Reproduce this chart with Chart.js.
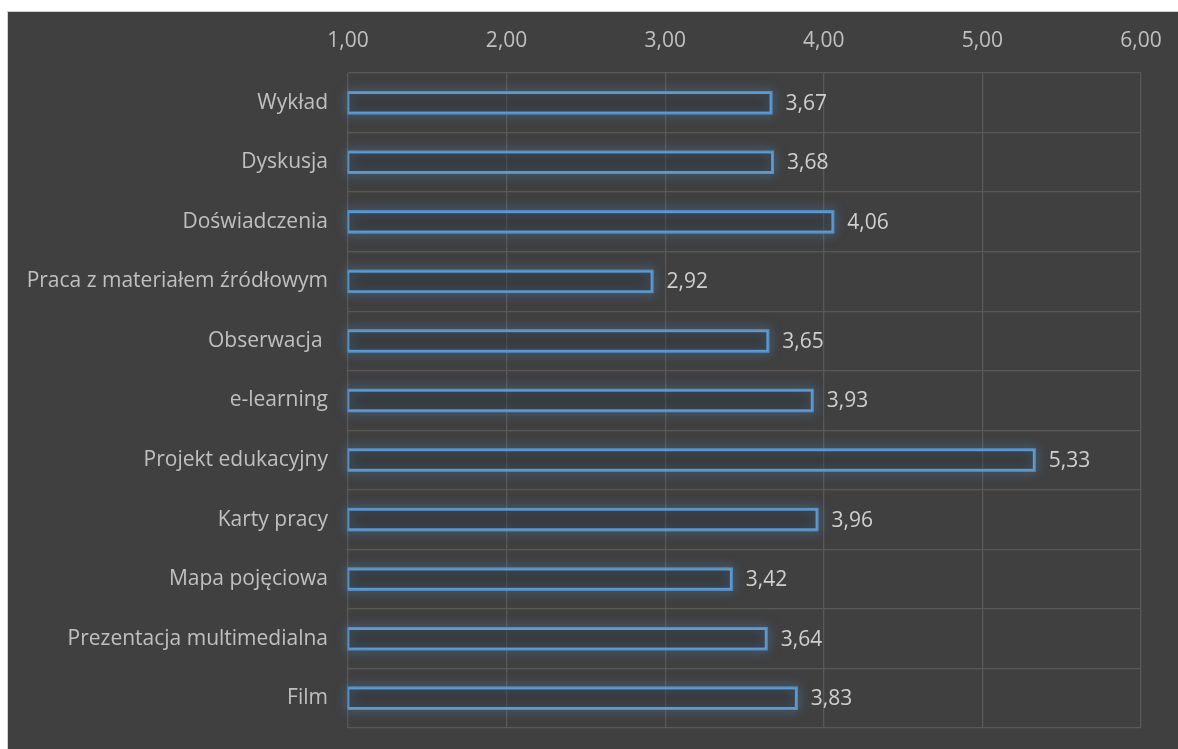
<!DOCTYPE html>
<html>
<head>
<meta charset="utf-8">
<script src="https://cdn.jsdelivr.net/npm/chart.js@4"></script>
<style>
  html,body{margin:0;padding:0;background:#fff;overflow:hidden}
  #box{position:absolute;left:7px;top:11px;width:1171px;height:738px;background:#404040;border-left:1px solid #d0d0d0;border-top:1px solid #d0d0d0;box-sizing:border-box}
  #box canvas{position:absolute;left:0;top:0}
</style>
</head>
<body>
<div id="box"><canvas id="c" width="1170" height="737"></canvas></div>
<script>
const CATEGORIES = ['Wykład','Dyskusja','Doświadczenia','Praca z materiałem źródłowym','Obserwacja ','e-learning','Projekt edukacyjny','Karty pracy','Mapa pojęciowa','Prezentacja multimedialna','Film']
const SCORES = [3.67,3.68,4.06,2.92,3.65,3.93,5.33,3.96,3.42,3.64,3.83]
const AXIS_MIN = 1, AXIS_MAX = 6

const fmt = v => v.toFixed(2).replace('.',',')
const FONT = "'Open Sans', sans-serif"
const SIZE = 21

// soft blue halo behind each bar
const glow = {
  id:'glow',
  beforeDatasetsDraw(chart){
    const ctx = chart.ctx
    ctx.save()
    chart.getDatasetMeta(0).data.forEach(b=>{
      const h = b.height, x0 = Math.min(b.base,b.x), w = Math.abs(b.x-b.base)
      ctx.shadowColor = 'rgba(91,155,213,0.9)'
      ctx.shadowBlur = 12
      ctx.strokeStyle = 'rgba(91,155,213,0.6)'
      ctx.lineWidth = 2
      ctx.strokeRect(x0, b.y-h/2, w, h)
      ctx.strokeRect(x0, b.y-h/2, w, h)
    })
    ctx.restore()
  }
}

// value text to the right of each bar
const valueLabels = {
  id:'valueLabels',
  afterDatasetsDraw(chart){
    const ctx = chart.ctx
    ctx.save()
    ctx.font = SIZE+'px '+FONT
    ctx.fillStyle = '#cfcfcf'
    ctx.textBaseline = 'middle'
    chart.getDatasetMeta(0).data.forEach((b,i)=>{
      ctx.fillText(fmt(SCORES[i]), b.x+14, b.y+1)
    })
    ctx.restore()
  }
}

new Chart(document.getElementById('c'),{
  type:'bar',
  data:{labels:CATEGORIES,datasets:[{
    data:SCORES,base:AXIS_MIN,
    backgroundColor:'rgba(40,44,50,0.3)',borderColor:'#5b9bd5',borderWidth:2,
    barPercentage:0.36,categoryPercentage:1
  }]},
  options:{
    indexAxis:'y',responsive:false,animation:false,devicePixelRatio:1,
    layout:{padding:{left:0,right:37,top:0,bottom:21}},
    plugins:{legend:{display:false},tooltip:{enabled:false}},
    scales:{
      x:{position:'top',min:AXIS_MIN,max:AXIS_MAX,
        afterFit:s=>{s.height=61;s.paddingLeft=0;s.paddingRight=0},
        border:{display:false},
        grid:{color:'#595959',lineWidth:1.3,drawTicks:false},
        ticks:{stepSize:1,color:'#c0c0c0',padding:19,font:{family:FONT,size:SIZE},callback:v=>fmt(v)}},
      y:{afterFit:s=>{s.width=340;s.paddingTop=0;s.paddingBottom=0},
        border:{display:false},
        grid:{color:'#595959',lineWidth:1.3,drawTicks:false,offset:true},
        ticks:{color:'#c0c0c0',padding:20,font:{family:FONT,size:SIZE}}}
    }
  },
  plugins:[glow,valueLabels]
})
</script>
</body>
</html>
